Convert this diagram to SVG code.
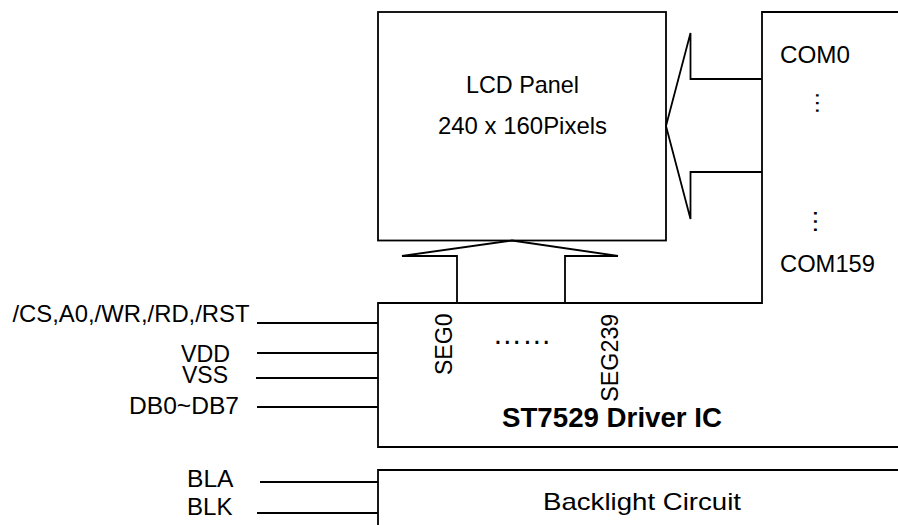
<svg xmlns="http://www.w3.org/2000/svg" width="898" height="525" viewBox="0 0 898 525">
<style>
  .ln { fill: none; stroke: #000; stroke-width: 1.8; stroke-linejoin: miter; }
  .t { font-family: "Liberation Sans", Arial, sans-serif; font-size: 24px; fill: #000; }
  .b { font-weight: bold; font-size: 28px; }
  .dot { font-family: "Liberation Sans", Arial, sans-serif; fill: #000; }
</style>
<rect width="898" height="525" fill="#fff"/>

<g id="lcd-panel">
  <rect class="ln" x="378" y="12" width="288" height="228.5"/>
  <text class="t" x="466" y="93" textLength="113" lengthAdjust="spacingAndGlyphs">LCD Panel</text>
  <text class="t" x="438" y="134" textLength="169" lengthAdjust="spacingAndGlyphs">240 x 160Pixels</text>
</g>

<g id="driver-ic">
  <path class="ln" d="M900,447 H378 V303 H762 V12 H900"/>
  <text class="t" x="780" y="63" textLength="70" lengthAdjust="spacingAndGlyphs">COM0</text>
  <text class="dot" font-size="24" transform="translate(815.5,91) rotate(90)">…</text>
  <text class="dot" font-size="26" transform="translate(813.7,208.4) rotate(90)">…</text>
  <text class="t" x="780" y="272" textLength="95" lengthAdjust="spacingAndGlyphs">COM159</text>
  <text class="t" transform="translate(452,375) rotate(-90)" textLength="61.5" lengthAdjust="spacingAndGlyphs">SEG0</text>
  <text class="dot" font-size="29.6" x="492.5" y="343.5">……</text>
  <text class="t" transform="translate(618,401.7) rotate(-90)" textLength="88" lengthAdjust="spacingAndGlyphs">SEG239</text>
  <text class="t b" x="502" y="427" textLength="220" lengthAdjust="spacingAndGlyphs">ST7529 Driver IC</text>
</g>

<g id="backlight">
  <path class="ln" d="M900,470 H378 V526"/>
  <text class="t" font-size="25.5" x="543" y="510" textLength="198" lengthAdjust="spacingAndGlyphs">Backlight Circuit</text>
</g>

<g id="signal-labels">
  <text class="t" x="12.5" y="322" textLength="237" lengthAdjust="spacingAndGlyphs">/CS,A0,/WR,/RD,/RST</text>
  <text class="t" font-size="22" x="181" y="362" textLength="49" lengthAdjust="spacingAndGlyphs">VDD</text>
  <text class="t" font-size="22" x="182" y="383" textLength="46" lengthAdjust="spacingAndGlyphs">VSS</text>
  <text class="t" x="129" y="414" textLength="110" lengthAdjust="spacingAndGlyphs">DB0~DB7</text>
  <text class="t" x="187" y="487" textLength="46.5" lengthAdjust="spacingAndGlyphs">BLA</text>
  <text class="t" x="187" y="515" textLength="45.5" lengthAdjust="spacingAndGlyphs">BLK</text>
</g>

<g id="connectors">
  <path class="ln" d="M457,303 V256 H402 L512,240.5 L618,256 H565 V303"/>
  <path class="ln" d="M762,79 H690.5 V33 L666,126 L690.5,219 V172 H762"/>
  <line class="ln" x1="257" y1="323" x2="378" y2="323"/>
  <line class="ln" x1="257" y1="353" x2="378" y2="353"/>
  <line class="ln" x1="256" y1="378" x2="378" y2="378"/>
  <line class="ln" x1="257" y1="407" x2="378" y2="407"/>
  <line class="ln" x1="260" y1="482" x2="378" y2="482"/>
  <line class="ln" x1="257" y1="513" x2="378" y2="513"/>
</g>
</svg>
